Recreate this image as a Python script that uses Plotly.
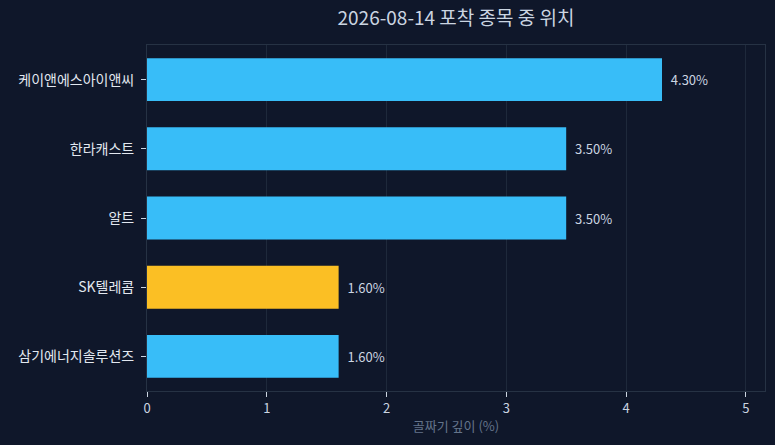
import plotly.graph_objects as go

names = ['케이앤에스아이앤씨', '한라캐스트', '알트', 'SK텔레콤', '삼기에너지솔루션즈']
depths = [4.30, 3.50, 3.50, 1.60, 1.60]
highlight = 'SK텔레콤'

colors = ['#fbbf24' if n == highlight else '#38bdf8' for n in names]
# leading no-break spaces push the value labels off the bar end a bit
labels = [f"\u00a0\u00a0{d:.2f}%" for d in depths]

fig = go.Figure(go.Bar(
    x=depths, y=names, orientation='h',
    marker=dict(color=colors, line=dict(width=0)),
    text=labels, textposition='outside',
    textfont=dict(color='#cbd5e1', size=13),
    width=0.62, cliponaxis=False,
))

fig.update_layout(
    width=775, height=445,
    title=dict(text="2026-08-14 포착 종목 중 위치", xref='paper', x=0.5,
               y=0.959, yanchor='middle',
               font=dict(size=19, color='#cbd5e1')),
    paper_bgcolor='#0f172a', plot_bgcolor='#0f172a',
    font=dict(family="Noto Sans CJK KR", color='#e2e8f0', size=13),
    margin=dict(l=147, r=10, t=45, b=54),
    showlegend=False,
)
fig.update_xaxes(
    range=[0, max(depths) * 1.2], dtick=1,
    title=dict(text="골짜기 깊이 (%)", font=dict(color='#64748b', size=13), standoff=6),
    gridcolor='#1e293b', showline=True, linecolor='#263244', mirror=True,
    ticks='outside', tickcolor='#cbd5e1', ticklen=5, zeroline=False,
    tickfont=dict(color='#cbd5e1'),
)
fig.update_yaxes(
    categoryorder='array', categoryarray=names[::-1],
    showline=True, linecolor='#263244', mirror=True,
    ticks='outside', tickcolor='#cbd5e1', ticklen=5, showgrid=False,
    ticklabelstandoff=4, tickfont=dict(color='#e2e8f0', size=14),
)

fig.write_html("out.html", config={'displayModeBar': False}, post_script=(
    "document.body.style.margin='0';"
    "document.body.style.background='#0f172a';"
))
